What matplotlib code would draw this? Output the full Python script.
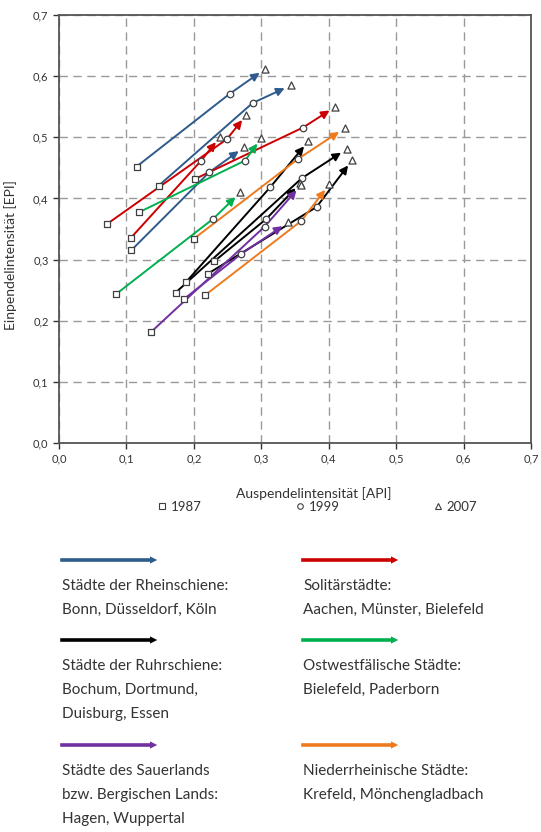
import matplotlib
matplotlib.use("Agg")
import matplotlib.pyplot as plt
from matplotlib.lines import Line2D

plt.rcParams['font.family'] = ['Lato', 'DejaVu Sans']

# one entry per city, order: Rheinschiene(3), Solitaer(3), Ruhr(4), OWL(2), Sauerland(2), Niederrhein(2)
group = ['rhein'] * 3 + ['solitaer'] * 3 + ['ruhr'] * 4 + ['owl'] * 2 + ['sauer'] * 2 + ['niederrhein'] * 2

api_1987 = [0.115, 0.148, 0.107, 0.071, 0.107, 0.202, 0.189, 0.173, 0.230, 0.221, 0.084, 0.118, 0.136, 0.186, 0.200, 0.217]
epi_1987 = [0.452, 0.421, 0.315, 0.358, 0.336, 0.432, 0.264, 0.246, 0.297, 0.277, 0.243, 0.377, 0.181, 0.236, 0.334, 0.242]
api_1999 = [0.253, 0.287, 0.223, 0.249, 0.211, 0.362, 0.313, 0.360, 0.307, 0.382, 0.229, 0.276, 0.305, 0.270, 0.355, 0.359]
epi_1999 = [0.571, 0.556, 0.443, 0.497, 0.462, 0.516, 0.418, 0.433, 0.366, 0.386, 0.367, 0.462, 0.354, 0.309, 0.465, 0.363]
api_2007 = [0.306, 0.344, 0.275, 0.278, 0.239, 0.410, 0.370, 0.427, 0.358, 0.435, 0.269, 0.300, 0.359, 0.340, 0.424, 0.401]
epi_2007 = [0.612, 0.585, 0.484, 0.537, 0.501, 0.550, 0.494, 0.481, 0.425, 0.463, 0.410, 0.499, 0.422, 0.361, 0.515, 0.423]

colors = {
    'rhein': '#2F5B8C',
    'solitaer': '#CC0000',
    'ruhr': '#000000',
    'owl': '#00B050',
    'sauer': '#7030A0',
    'niederrhein': '#EE7A1E',
}

legend_labels = {
    'rhein': "Städte der Rheinschiene:\nBonn, Düsseldorf, Köln",
    'solitaer': "Solitärstädte:\nAachen, Münster, Bielefeld",
    'ruhr': "Städte der Ruhrschiene:\nBochum, Dortmund,\nDuisburg, Essen",
    'owl': "Ostwestfälische Städte:\nBielefeld, Paderborn",
    'sauer': "Städte des Sauerlands\nbzw. Bergischen Lands:\nHagen, Wuppertal",
    'niederrhein': "Niederrheinische Städte:\nKrefeld, Mönchengladbach",
}

ticks = [0.0, 0.1, 0.2, 0.3, 0.4, 0.5, 0.6, 0.7]
tick_labels = ['0,0', '0,1', '0,2', '0,3', '0,4', '0,5', '0,6', '0,7']

W, H = 541, 832
fig = plt.figure(figsize=(W / 100, H / 100), dpi=100)
ax = fig.add_axes([59 / W, 1 - 443 / H, 472 / W, 428 / H])

text_col = '#333333'
marker_col = '#404040'

for i, g in enumerate(group):
    c = colors[g]
    ax.plot([api_1987[i], api_1999[i]], [epi_1987[i], epi_1999[i]], color=c, lw=1.4, zorder=3,
            solid_capstyle='butt')
    ax.annotate('', xy=(api_2007[i], epi_2007[i]), xytext=(api_1999[i], epi_1999[i]),
                arrowprops=dict(arrowstyle='-|>', color=c, lw=1.4, mutation_scale=12,
                                shrinkA=0, shrinkB=5), zorder=3)

ax.scatter(api_1987, epi_1987, marker='s', s=22, facecolors='white', edgecolors=marker_col,
           linewidths=0.9, zorder=5)
ax.scatter(api_1999, epi_1999, marker='o', s=22, facecolors='white', edgecolors=marker_col,
           linewidths=0.9, zorder=5)
ax.scatter(api_2007, epi_2007, marker='^', s=26, facecolors='white', edgecolors=marker_col,
           linewidths=0.9, zorder=5)

ax.set_xlim(0, 0.7)
ax.set_ylim(0, 0.7)
ax.set_xticks(ticks)
ax.set_yticks(ticks)
ax.set_xticklabels(tick_labels)
ax.set_yticklabels(tick_labels)
ax.tick_params(labelsize=8, colors=text_col, length=4, width=1, direction='out')
ax.grid(True, color='#999999', linestyle=(0, (6, 4)), linewidth=1.0)
ax.set_axisbelow(True)
for sp in ax.spines.values():
    sp.set_color('#555555')
    sp.set_linewidth(1.3)

ax.set_xlabel('Auspendelintensität [API]', fontsize=10, color=text_col)
ax.set_ylabel('Einpendelintensität [EPI]', fontsize=10, color=text_col)
ax.xaxis.set_label_coords(0.54, -0.103)
ax.yaxis.set_label_coords(-0.089, 0.44)

year_handles = [
    Line2D([], [], marker='s', ls='none', markersize=4, markerfacecolor='white',
           markeredgecolor=marker_col, markeredgewidth=0.8, label='1987'),
    Line2D([], [], marker='o', ls='none', markersize=4, markerfacecolor='white',
           markeredgecolor=marker_col, markeredgewidth=0.8, label='1999'),
    Line2D([], [], marker='^', ls='none', markersize=4, markerfacecolor='white',
           markeredgecolor=marker_col, markeredgewidth=0.8, label='2007'),
]
leg = fig.legend(handles=year_handles, loc='center', bbox_to_anchor=(317 / W, 1 - 507 / H),
                 ncol=3, frameon=False, fontsize=9.5, handlelength=0.8, handletextpad=0.3,
                 columnspacing=7.0, labelcolor=text_col)

# group legend below the chart: arrow + description
legend_pos = {
    'rhein': (62, 560),
    'solitaer': (303, 560),
    'ruhr': (62, 640),
    'owl': (303, 640),
    'sauer': (62, 745),
    'niederrhein': (303, 745),
}
for g, (px, py) in legend_pos.items():
    c = colors[g]
    yf = 1 - py / H
    fig.add_artist(plt.Line2D([px / W, (px + 88) / W], [yf, yf], color=c, lw=2.6,
                              transform=fig.transFigure))
    fig.patches.append(matplotlib.patches.FancyArrowPatch(
        ((px + 80) / W, yf), ((px + 98) / W, yf), transform=fig.transFigure,
        arrowstyle='-|>', mutation_scale=13, color=c, lw=0))
    lines = legend_labels[g].split('\n')
    for k, t in enumerate(lines):
        fig.text(px / W, 1 - (py + 26 + 24 * k) / H, t, fontsize=11, color=text_col,
                 va='center', ha='left')

fig.savefig('out.png', dpi=100)
